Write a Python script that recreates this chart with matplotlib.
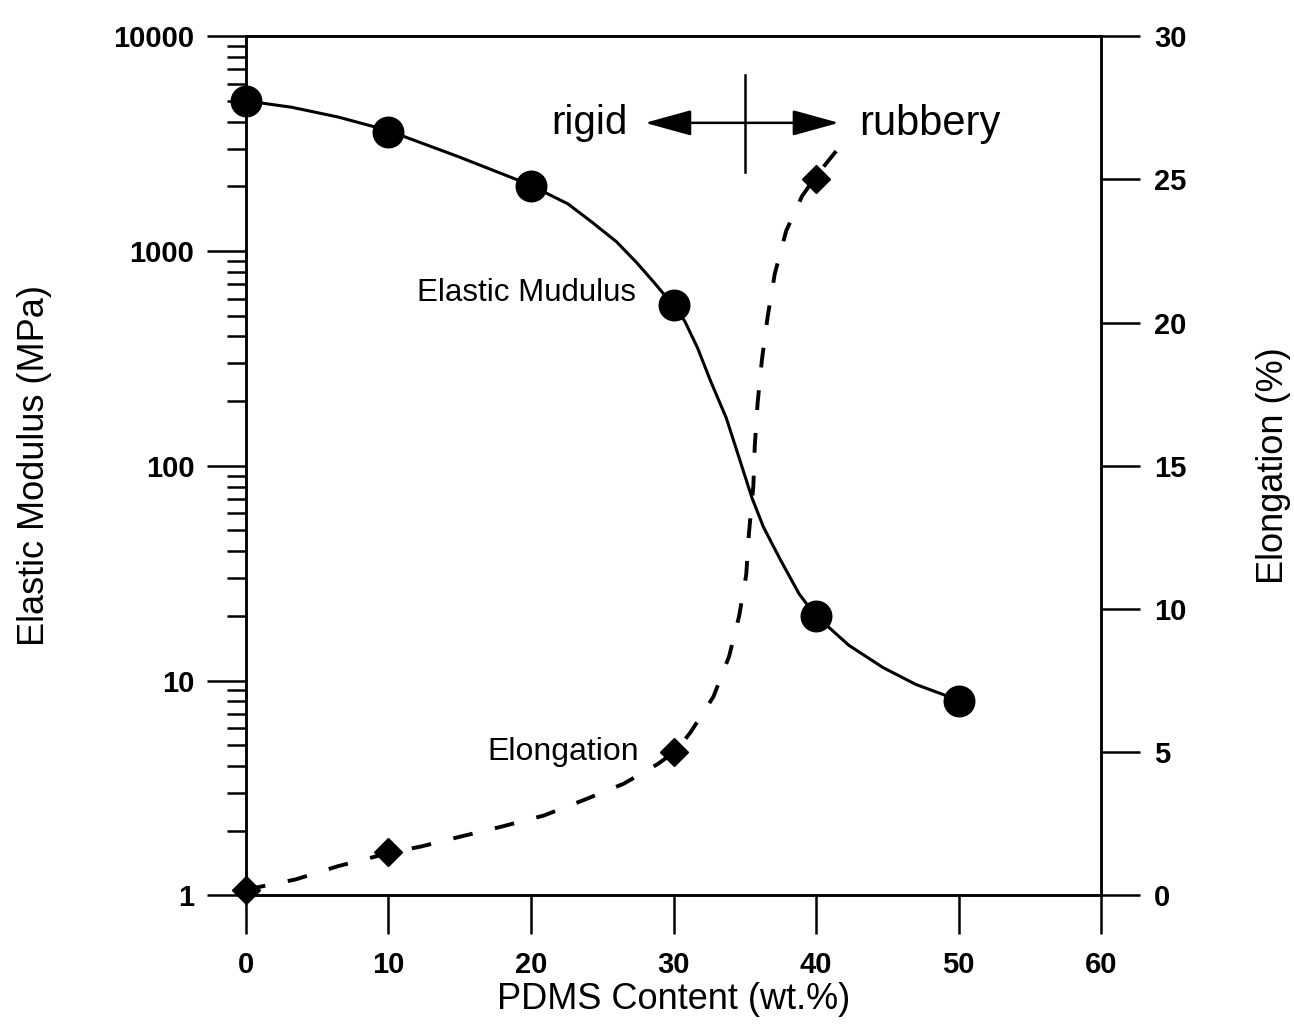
import numpy as np
import matplotlib
matplotlib.use('Agg')
import matplotlib.pyplot as plt
from matplotlib.ticker import LogLocator, FixedLocator, NullFormatter

plt.rcParams['font.family'] = ['Liberation Sans', 'DejaVu Sans']

# measured points
pdms = [0, 10, 20, 30, 40, 50]
modulus = [5000, 3600, 2000, 560, 20, 8]          # MPa
pdms_el = [0, 10, 30, 40]
elongation = [0.2, 1.5, 5.0, 25.0]                # %

# fitted trend lines
mod_fit_x = [0, 3.2, 6.5, 9.9, 14.9, 19.8, 22.6, 24.3, 26.0, 27.4, 28.6, 29.9,
             30.8, 31.7, 32.6, 33.7, 34.6, 35.5, 36.3, 37.5, 38.8, 39.9,
             42.3, 44.7, 47.0, 50]
mod_fit_y = [5000, 4670, 4200, 3650, 2750, 2050, 1656, 1359, 1104, 885, 718, 567,
             470, 352, 248, 167, 109, 71, 52, 36.5, 25.4, 20.3,
             14.6, 11.5, 9.6, 8.1]
el_fit_x = [0, 3.5, 6.45, 10.2, 12.3, 15.1, 18.0, 20.9, 23.8, 26.5, 28.9, 30.2,
            31.2, 32.8, 33.9, 34.6, 35.1, 35.3, 35.6, 35.7, 35.9, 36.2, 36.6,
            37.1, 37.9, 39.0, 39.9, 41.1, 41.6]
el_fit_y = [0.2, 0.56, 1.02, 1.5, 1.71, 2.06, 2.41, 2.79, 3.35, 3.9, 4.59, 5.06,
            5.7, 6.94, 8.35, 9.75, 11.2, 12.7, 14.3, 15.7, 17.2, 18.7, 20.2,
            21.7, 23.2, 24.4, 25.05, 25.8, 26.1]

x_ticks = [0, 10, 20, 30, 40, 50, 60]
el_ticks = [0, 5, 10, 15, 20, 25, 30]

fig = plt.figure(figsize=(12.94, 10.34), dpi=100)
ax = fig.add_axes([0.190, 0.134, 0.661, 0.831])
ax2 = ax.twinx()

# elastic modulus, log scale
ax.set_yscale('log')
ax.set_xlim(0, 60)
ax.set_ylim(1, 10000)
ax.plot(mod_fit_x, mod_fit_y, '-', color='black', lw=2.2, clip_on=False)
ax.plot(pdms, modulus, 'o', color='black', ms=22, clip_on=False, zorder=5)

# elongation
ax2.set_ylim(0, 30)
line, = ax2.plot(el_fit_x, el_fit_y, '--', color='black', lw=2.8, clip_on=False)
line.set_dashes((5.1, 5.9))
ax2.plot(pdms_el, elongation, 'D', color='black', ms=14, clip_on=False, zorder=5)

for a in (ax, ax2):
    for s in a.spines.values():
        s.set_linewidth(1.8)

ax.xaxis.set_major_locator(FixedLocator(x_ticks))
ax.tick_params(axis='x', direction='out', length=28, width=1.8, pad=12,
               labelsize=21)
ax.set_yticks([1, 10, 100, 1000, 10000])
ax.set_yticklabels(['1', '10', '100', '1000', '10000'])
ax.yaxis.set_minor_locator(LogLocator(base=10, subs=np.arange(2, 10), numticks=10))
ax.yaxis.set_minor_formatter(NullFormatter())
ax.tick_params(axis='y', which='major', direction='out', length=28, width=1.8,
               pad=9, labelsize=21)
ax.tick_params(axis='y', which='minor', direction='out', length=14, width=1.8)
ax2.yaxis.set_major_locator(FixedLocator(el_ticks))
ax2.tick_params(axis='y', direction='out', length=28, width=1.8, pad=10,
                labelsize=21)
for lab in ax.get_xticklabels() + ax.get_yticklabels() + ax2.get_yticklabels():
    lab.set_fontweight('bold')

ax.set_xlabel('PDMS Content (wt.%)', fontsize=26, labelpad=2)
ax.set_ylabel('Elastic Modulus (MPa)', fontsize=26, labelpad=44)
ax2.set_ylabel('Elongation (%)', fontsize=26, labelpad=50)

# rigid / rubbery transition marker
ax.annotate('', xy=(28.0, 3950), xytext=(41.6, 3950),
            arrowprops=dict(arrowstyle='<|-|>,head_length=1.45,head_width=0.4',
                            mutation_scale=20, color='black', lw=1.8,
                            shrinkA=0, shrinkB=0))
ax.plot([35, 35], [2340, 6600], color='black', lw=1.8)
ax.text(26.8, 3950, 'rigid', ha='right', va='center', fontsize=29)
ax.text(43.0, 3900, 'rubbery', ha='left', va='center', fontsize=30)

ax.text(27.4, 640, 'Elastic Mudulus', ha='right', va='center', fontsize=22.5)
ax2.text(27.6, 5.0, 'Elongation', ha='right', va='center', fontsize=23)

fig.savefig('out.png', dpi=100)
